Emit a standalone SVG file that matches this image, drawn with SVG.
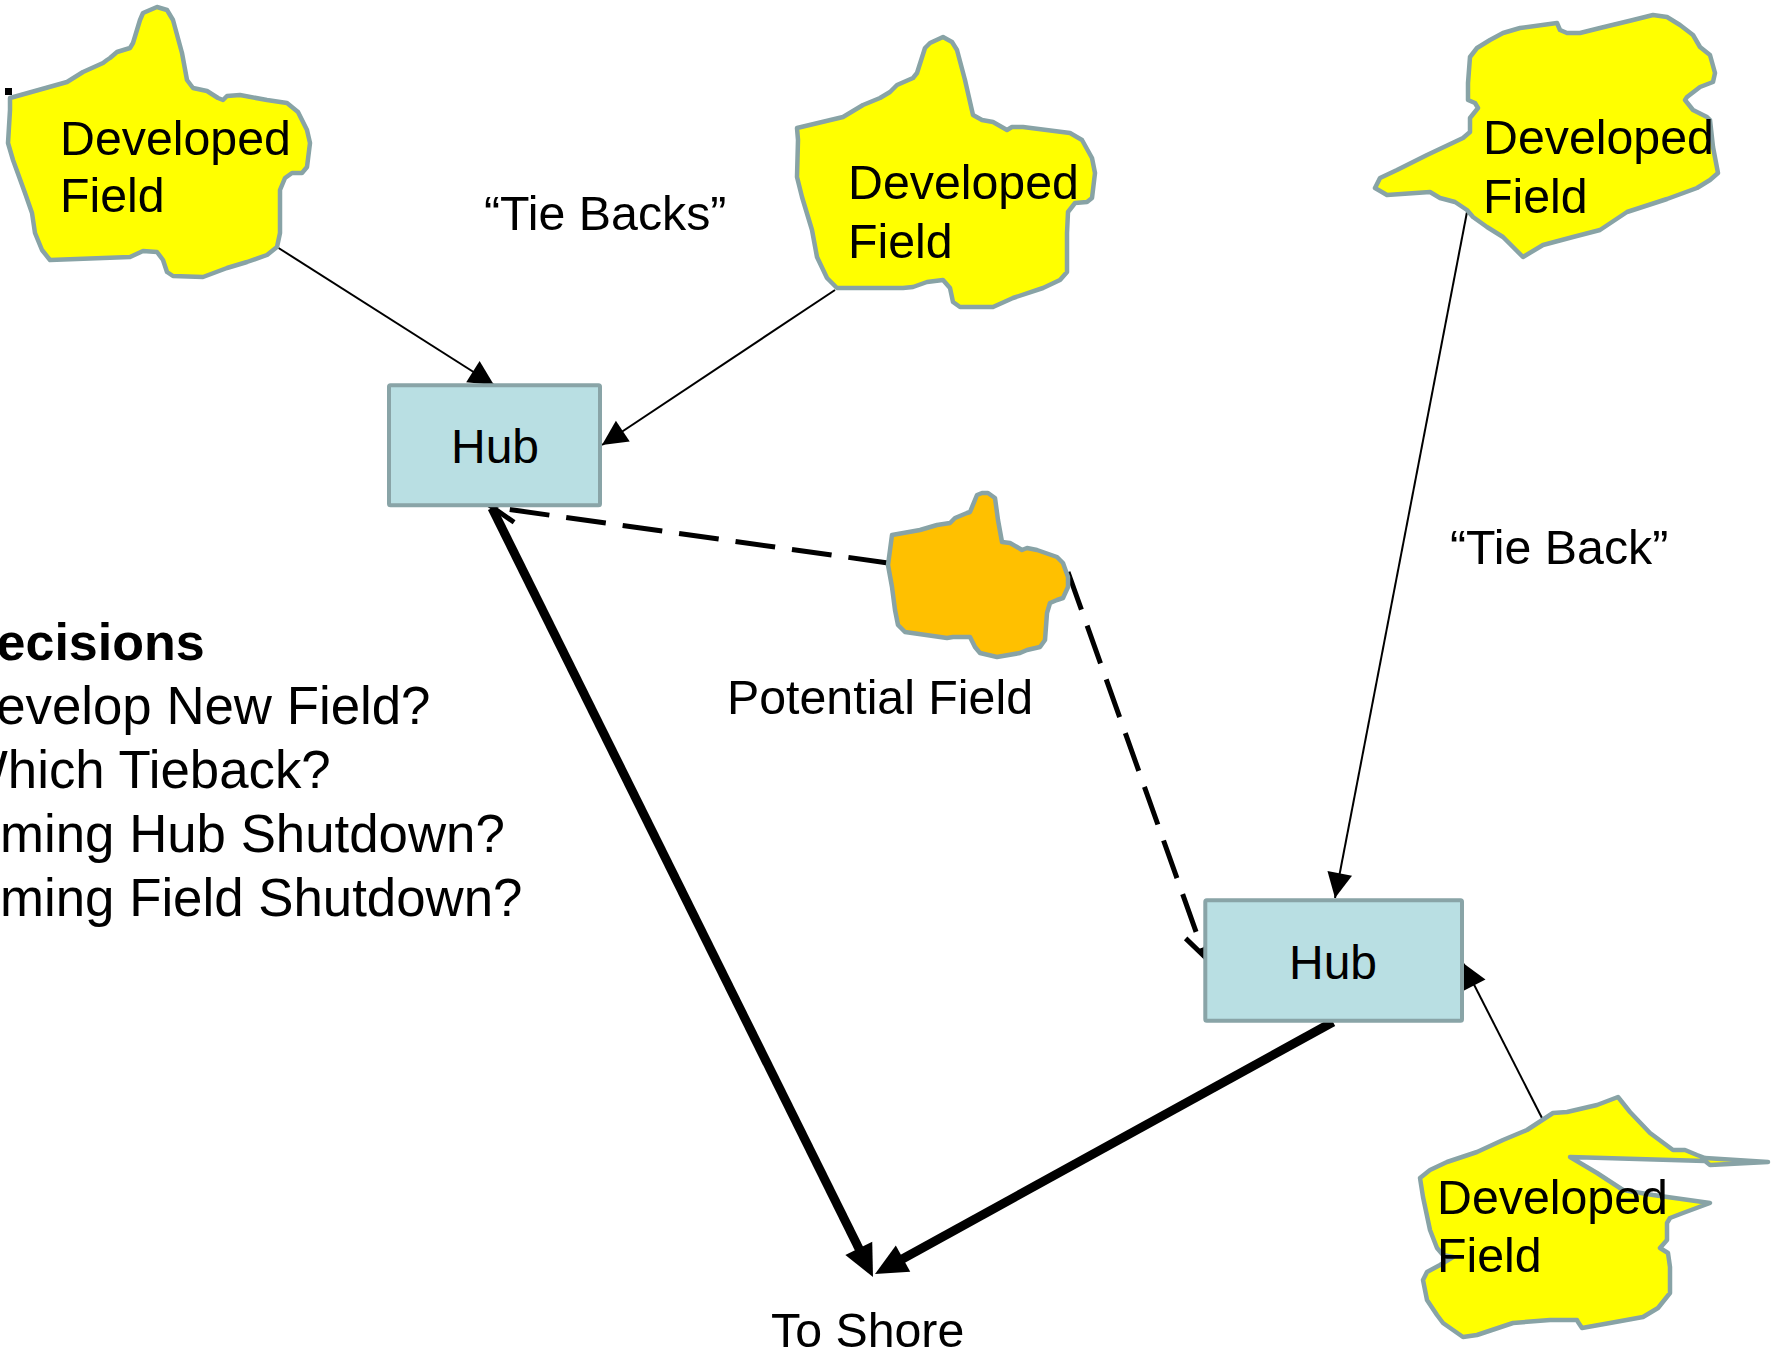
<svg xmlns="http://www.w3.org/2000/svg" width="1787" height="1353" viewBox="0 0 1787 1353">
<style>
  .field { fill: #FFFF00; stroke: #88A3A6; stroke-width: 4.5; stroke-linejoin: round; }
  .potential { fill: #FFC000; stroke: #88A3A6; stroke-width: 4.5; stroke-linejoin: round; }
  .hub { fill: #B9DFE3; stroke: #89A4A7; stroke-width: 4; }
  .lbl { font-family: "Liberation Sans", Arial, sans-serif; font-size: 48.3px; fill: #000; }
  .hubtxt { font-family: "Liberation Sans", Arial, sans-serif; font-size: 48px; fill: #000; text-anchor: middle; }
  .side { font-family: "Liberation Sans", Arial, sans-serif; font-size: 52.8px; fill: #000; }
  .head { font-family: "Liberation Sans", Arial, sans-serif; font-size: 52px; font-weight: bold; fill: #000; }
  .thin { stroke: #000; stroke-width: 2; fill: none; marker-end: url(#thinArrow); }
  .thick { stroke: #000; stroke-width: 9; fill: none; marker-end: url(#thickArrow); }
  .dash { stroke: #000; stroke-width: 5; fill: none; stroke-dasharray: 40 17; marker-end: url(#openArrow); }
</style>
<defs>
  <marker id="thinArrow" markerUnits="userSpaceOnUse" markerWidth="25" markerHeight="25" refX="25" refY="12.5" orient="auto" overflow="visible">
    <path d="M0,0 L25,12.5 L0,25 Z" fill="#000"/>
  </marker>
  <marker id="thickArrow" markerUnits="userSpaceOnUse" markerWidth="32" markerHeight="30" refX="7" refY="15" orient="auto" overflow="visible">
    <path d="M0,0 L32,15 L0,30 Z" fill="#000"/>
  </marker>
  <marker id="openArrow" markerUnits="userSpaceOnUse" markerWidth="26" markerHeight="26" refX="24" refY="12" orient="auto" overflow="visible">
    <path d="M0,0 L24,12 L0,24" fill="none" stroke="#000" stroke-width="5" stroke-dasharray="none"/>
  </marker>
</defs>
<rect x="0" y="0" width="1787" height="1353" fill="#FFFFFF"/>

<g id="connectors">
  <line class="thin" x1="277" y1="247" x2="494" y2="385"/>
  <line class="thin" x1="835" y1="290" x2="602" y2="445"/>
  <line class="thin" x1="1467" y1="212" x2="1335" y2="898"/>
  <line class="thin" x1="1543" y1="1120" x2="1463" y2="963"/>
  <line class="thick" x1="492" y1="508" x2="861.9" y2="1254.6"/>
  <line class="thick" x1="1333" y1="1022" x2="896.9" y2="1262"/>
  <line class="dash" x1="888" y1="563" x2="492" y2="507"/>
  <line class="dash" x1="1068" y1="572" x2="1205" y2="957"/>
</g>

<g id="field1">
  <path class="field" d="M10,98 L67,82 L83,72 L103,63 L107,60 L110,58 L117,52 L130,48 L133,43 L140,20 L143,13 L157,7 L167,10 L173,20 L182,53 L187,80 L193,88 L207,91 L218,98 L223,100 L227,96 L240,95 L267,100 L287,103 L298,112 L307,130 L310,143 L307,167 L302,173 L292,173 L285,178 L280,190 L280,233 L277,247 L267,255 L247,262 L227,268 L203,277 L173,276 L167,272 L163,260 L157,252 L143,251 L130,257 L50,260 L42,250 L35,233 L32,213 L25,193 L13,160 L8,143 L10,110 Z"/>
  <text class="lbl" x="60" y="155">Developed</text>
  <text class="lbl" x="60" y="212">Field</text>
</g>

<g id="field2">
  <path class="field" d="M797,128 L843,117 L863,105 L880,98 L890,92 L897,85 L913,78 L917,73 L925,48 L930,43 L943,37 L952,42 L957,50 L965,80 L973,115 L982,120 L993,122 L1007,130 L1012,127 L1023,127 L1070,133 L1082,140 L1092,158 L1095,173 L1092,198 L1087,202 L1075,203 L1068,212 L1067,233 L1067,272 L1060,280 L1043,288 L1013,298 L993,307 L960,307 L953,302 L950,288 L943,280 L927,282 L913,287 L903,288 L837,288 L827,278 L817,257 L812,230 L802,197 L797,177 L798,140 Z"/>
  <text class="lbl" x="848" y="199">Developed</text>
  <text class="lbl" x="848" y="258">Field</text>
</g>

<g id="field3">
  <path class="field" d="M1470,57 L1477,48 L1490,40 L1503,33 L1520,28 L1557,23 L1560,30 L1567,33 L1580,33 L1600,28 L1633,20 L1653,15 L1667,17 L1680,25 L1693,35 L1700,47 L1710,55 L1715,73 L1713,82 L1700,87 L1687,97 L1685,100 L1693,110 L1707,117 L1710,120 L1713,147 L1718,173 L1710,180 L1697,188 L1667,199 L1627,212 L1600,230 L1573,237 L1543,245 L1523,257 L1513,247 L1503,237 L1487,227 L1473,217 L1467,210 L1455,202 L1440,198 L1430,192 L1387,195 L1375,188 L1380,178 L1397,170 L1427,155 L1463,138 L1470,132 L1470,118 L1478,108 L1475,103 L1468,100 L1468,83 Z"/>
  <text class="lbl" x="1483" y="154">Developed</text>
  <text class="lbl" x="1483" y="213">Field</text>
</g>

<g id="field4">
  <path class="field" d="M1420,1178 L1430,1170 L1447,1162 L1477,1152 L1503,1140 L1527,1130 L1553,1113 L1567,1112 L1597,1105 L1618,1097 L1630,1112 L1650,1133 L1673,1150 L1685,1150 L1697,1155 L1705,1158 L1768,1162 L1710,1165 L1705,1161 L1570,1157 L1597,1173 L1623,1190 L1653,1195 L1710,1203 L1683,1213 L1670,1218 L1667,1223 L1667,1240 L1660,1248 L1668,1253 L1670,1267 L1670,1293 L1658,1308 L1643,1317 L1610,1323 L1582,1328 L1578,1322 L1577,1320 L1550,1320 L1513,1323 L1477,1335 L1463,1337 L1443,1323 L1437,1315 L1427,1300 L1423,1280 L1427,1272 L1440,1265 L1453,1257 L1443,1255 L1437,1248 L1430,1230 L1423,1197 Z"/>
  <text class="lbl" x="1437" y="1214">Developed</text>
  <text class="lbl" x="1437" y="1272">Field</text>
</g>

<g id="potential-field">
  <path class="potential" d="M892,535 L920,530 L937,525 L950,523 L955,518 L967,513 L970,512 L977,495 L982,493 L988,493 L995,498 L998,520 L1002,542 L1010,543 L1017,547 L1022,550 L1027,548 L1037,550 L1057,557 L1063,563 L1068,577 L1068,587 L1063,598 L1057,600 L1050,603 L1047,613 L1045,640 L1040,647 L1027,650 L1020,653 L997,657 L980,653 L975,647 L970,637 L953,637 L947,638 L905,632 L898,625 L895,610 L892,587 L888,565 Z"/>
  <text class="lbl" x="727" y="714">Potential Field</text>
</g>

<g id="hub1">
  <rect class="hub" x="389" y="385.3" width="211" height="120" rx="1.5"/>
  <text class="hubtxt" x="495" y="463">Hub</text>
</g>

<g id="hub2">
  <rect class="hub" x="1205.3" y="900.3" width="256.7" height="120.4" rx="1.5"/>
  <text class="hubtxt" x="1333" y="979">Hub</text>
</g>

<g id="labels">
  <text class="lbl" x="484" y="230">“Tie Backs”</text>
  <text class="lbl" x="1450" y="564">“Tie Back”</text>
  <text class="lbl" x="771" y="1347">To Shore</text>
</g>

<g id="decisions">
  <rect x="5" y="88" width="7" height="7" fill="#000"/>
  <text class="head" x="-41" y="660">Decisions</text>
  <text class="side" x="-42" y="724">Develop New Field?</text>
  <text class="side" x="-42" y="788">Which Tieback?</text>
  <text class="side" x="-42" y="852">Timing Hub Shutdown?</text>
  <text class="side" x="-42" y="916">Timing Field Shutdown?</text>
</g>
</svg>
